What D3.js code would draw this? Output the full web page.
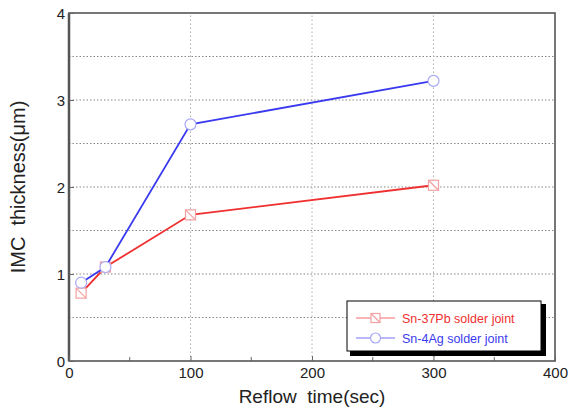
<!DOCTYPE html>
<html lang="en">
<head>
  <meta charset="UTF-8">
  <title>IMC thickness vs reflow time</title>
  <script src="https://d3js.org/d3.v7.min.js"></script>
  <style>
    body { margin: 0; background: #fff; }
    text { font-family: "Liberation Sans", Arial, sans-serif; }
  </style>
</head>
<body>
  <svg width="568" height="408"></svg>

  <script>
    // data
    const reflowTimes = [10, 30, 100, 300];
    const snPbValues = [0.78, 1.08, 1.68, 2.02];
    const snAgValues = [0.90, 1.08, 2.72, 3.22];
    const seriesNames = ["Sn-37Pb solder joint", "Sn-4Ag solder joint"];
    const xTicks = [0, 100, 200, 300, 400];
    const yTicks = [0, 1, 2, 3, 4];

    const svg = d3.select("svg");
    const margin = { left: 69, right: 13, top: 13, bottom: 47 };
    const w = 568 - margin.left - margin.right;
    const h = 408 - margin.top - margin.bottom;

    const x = d3.scaleLinear().domain([0, 400]).range([margin.left, margin.left + w]);
    const y = d3.scaleLinear().domain([0, 4]).range([margin.top + h, margin.top]);

    // grid
    const grid = svg.append("g");
    grid.selectAll(".hg")
      .data(d3.range(0.5, 4, 0.5))
      .enter().append("line")
      .attr("x1", x(0)).attr("x2", x(400))
      .attr("y1", d => y(d)).attr("y2", d => y(d))
      .attr("stroke", "#888")
      .attr("stroke-width", 1.2)
      .attr("stroke-dasharray", "1.5,2");
    grid.selectAll(".vg")
      .data([100, 200, 300])
      .enter().append("line")
      .attr("x1", d => x(d)).attr("x2", d => x(d))
      .attr("y1", y(0)).attr("y2", y(4))
      .attr("stroke", "#b0b0b0")
      .attr("stroke-width", 1)
      .attr("stroke-dasharray", "1.5,2.5");

    // minor ticks on x, inside
    svg.append("g").selectAll("line")
      .data([50, 150, 250, 350])
      .enter().append("line")
      .attr("x1", d => x(d)).attr("x2", d => x(d))
      .attr("y1", y(0)).attr("y2", y(0) - 4)
      .attr("stroke", "#666");

    // frame
    svg.append("rect")
      .attr("x", x(0)).attr("y", y(4))
      .attr("width", w).attr("height", h)
      .attr("fill", "none")
      .attr("stroke", "#555")
      .attr("stroke-width", 1.6);
    svg.append("line")
      .attr("x1", x(0)).attr("x2", x(0))
      .attr("y1", y(0)).attr("y2", y(4))
      .attr("stroke", "#555").attr("stroke-width", 2.5);

    // axes
    const xAxis = svg.append("g")
      .attr("transform", `translate(0,${y(0)})`)
      .call(d3.axisBottom(x).tickValues(xTicks).tickFormat(d3.format("d"))
        .tickSizeInner(-5).tickSizeOuter(0).tickPadding(6));
    const yAxis = svg.append("g")
      .attr("transform", `translate(${x(0)},0)`)
      .call(d3.axisLeft(y).tickValues(yTicks).tickFormat(d3.format("d"))
        .tickSizeInner(-5).tickSizeOuter(0).tickPadding(4));
    [xAxis, yAxis].forEach(a => {
      a.select(".domain").remove();
      a.selectAll("line").attr("stroke", "#666");
      a.selectAll("text")
        .attr("font-size", 15)
        .attr("fill", "#222")
        .attr("font-family", "'Liberation Sans', Arial, sans-serif");
    });
    yAxis.selectAll("text").attr("dy", "0.35em");

    // axis titles
    svg.append("text")
      .attr("x", x(200)).attr("y", 403)
      .attr("text-anchor", "middle")
      .attr("font-size", 19)
      .attr("fill", "#222")
      .attr("xml:space", "preserve")
      .text("Reflow  time(sec)");
    svg.append("text")
      .attr("transform", `translate(25,${y(2)}) rotate(-90)`)
      .attr("text-anchor", "middle")
      .attr("font-size", 20)
      .attr("fill", "#222")
      .attr("xml:space", "preserve")
      .text("IMC  thickness(μm)");

    // series
    const line = d3.line().x(d => x(d[0])).y(d => y(d[1]));
    const pbData = reflowTimes.map((t, i) => [t, snPbValues[i]]);
    const agData = reflowTimes.map((t, i) => [t, snAgValues[i]]);

    function square(g, cx, cy, s, col) {
      g.append("rect")
        .attr("x", cx - s).attr("y", cy - s)
        .attr("width", 2 * s).attr("height", 2 * s)
        .attr("fill", "#fff").attr("stroke", col).attr("stroke-width", 1.2);
      g.append("line")
        .attr("x1", cx - s).attr("y1", cy - s)
        .attr("x2", cx + s).attr("y2", cy + s)
        .attr("stroke", col).attr("stroke-width", 1.2);
    }

    svg.append("path").datum(pbData)
      .attr("d", line).attr("fill", "none")
      .attr("stroke", "#f03030").attr("stroke-width", 1.8);
    const pbMarks = svg.append("g");
    pbData.forEach(d => square(pbMarks, x(d[0]), y(d[1]), 5, "#f5a0a0"));

    svg.append("path").datum(agData)
      .attr("d", line).attr("fill", "none")
      .attr("stroke", "#3a3af0").attr("stroke-width", 1.8);
    svg.append("g").selectAll("circle")
      .data(agData)
      .enter().append("circle")
      .attr("cx", d => x(d[0])).attr("cy", d => y(d[1]))
      .attr("r", 5.5)
      .attr("fill", "#fff")
      .attr("stroke", "#a8a8f5")
      .attr("stroke-width", 1.2);

    // legend
    const lg = svg.append("g").attr("transform", "translate(347,301)");
    lg.append("rect").attr("x", 3).attr("y", 3).attr("width", 196).attr("height", 52).attr("fill", "#000");
    lg.append("rect").attr("x", 0).attr("y", 0).attr("width", 194).attr("height", 50)
      .attr("fill", "#fff").attr("stroke", "#000").attr("stroke-width", 1);
    const cols = ["#f03030", "#3a3af0"];
    const markCols = ["#f5a0a0", "#a8a8f5"];
    seriesNames.forEach((name, i) => {
      const yy = 17 + i * 20;
      lg.append("line").attr("x1", 9).attr("x2", 48).attr("y1", yy).attr("y2", yy)
        .attr("stroke", cols[i]).attr("stroke-width", 1.2).attr("opacity", 0.7);
      if (i === 0) square(lg, 28.5, yy, 4.5, markCols[0]);
      else lg.append("circle").attr("cx", 28.5).attr("cy", yy).attr("r", 5)
        .attr("fill", "#fff").attr("stroke", markCols[1]).attr("stroke-width", 1.2);
      lg.append("text").attr("x", 55).attr("y", yy + 4.5)
        .attr("font-size", 12.5).attr("fill", cols[i]).text(name);
    });
  </script>
</body>
</html>
